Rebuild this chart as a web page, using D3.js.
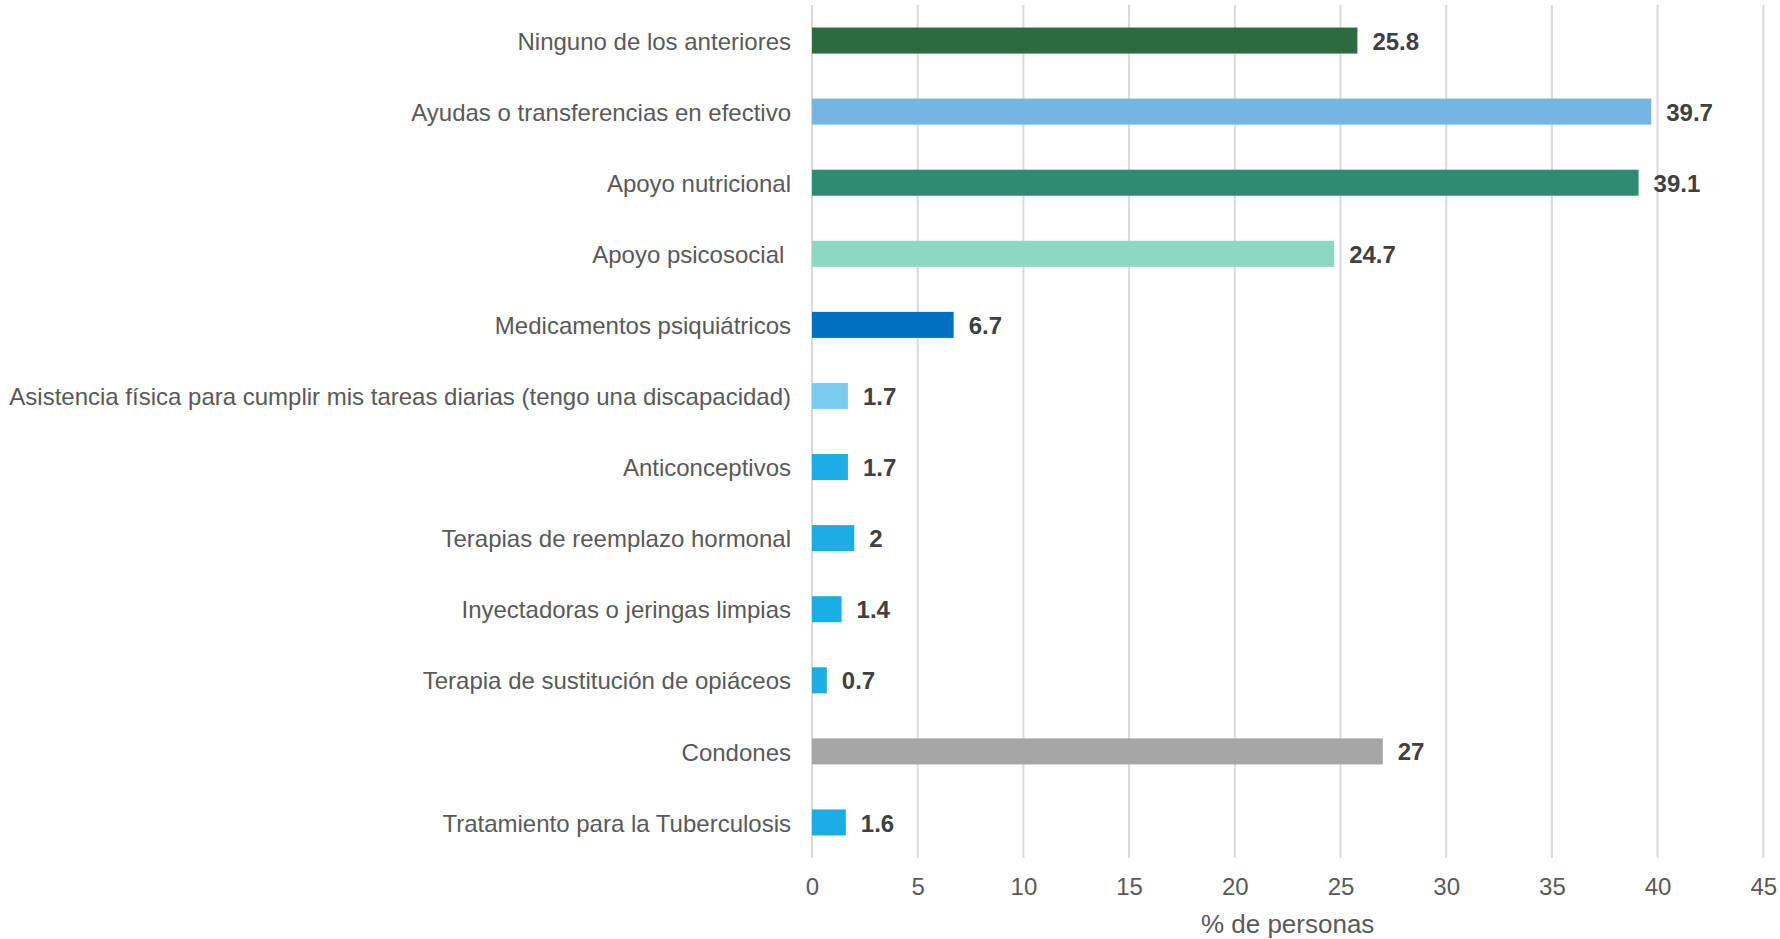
<!DOCTYPE html>
<html>
<head>
<meta charset="utf-8">
<script src="https://cdn.jsdelivr.net/npm/d3@7"></script>
<style>
  body { margin: 0; background: #fff; }
  svg text { font-family: "Liberation Sans", Arial, sans-serif; white-space: pre; }
</style>
</head>
<body>
<svg id="chart" width="1780" height="939"></svg>
<script>
var categories = [
  "Ninguno de los anteriores",
  "Ayudas o transferencias en efectivo",
  "Apoyo nutricional",
  "Apoyo psicosocial ",
  "Medicamentos psiquiátricos",
  "Asistencia física para cumplir mis tareas diarias (tengo una discapacidad)",
  "Anticonceptivos",
  "Terapias de reemplazo hormonal",
  "Inyectadoras o jeringas limpias",
  "Terapia de sustitución de opiáceos",
  "Condones",
  "Tratamiento para la Tuberculosis"
];
var values = [25.8, 39.7, 39.1, 24.7, 6.7, 1.7, 1.7, 2, 1.4, 0.7, 27, 1.6];
var colors = ["#2e6a3f", "#75b4e3", "#2e8a70", "#8dd8c0", "#0070c0", "#7accf0",
              "#1cade4", "#1cade4", "#1cade4", "#1cade4", "#a5a5a5", "#1cade4"];
var xTicks = [0, 5, 10, 15, 20, 25, 30, 35, 40, 45];

var svg = d3.select("#chart"),
    margin = {top: 5, left: 812},
    width = 951.3,
    height = 853,
    g = svg.append("g").attr("transform", "translate(" + margin.left + "," + margin.top + ")");

var x = d3.scaleLinear().domain([0, 45]).range([0, width]);
var y = d3.scaleBand().domain(categories).range([0, height])
    .paddingInner(0.634).paddingOuter(0.317);

// gridlines
g.selectAll("line.grid")
    .data(xTicks)
    .enter().append("line")
    .attr("class", "grid")
    .attr("x1", function(d) { return x(d); })
    .attr("x2", function(d) { return x(d); })
    .attr("y1", 0)
    .attr("y2", height)
    .attr("stroke", "#d9d9d9")
    .attr("stroke-width", 2);

// bars
g.selectAll("rect.bar")
    .data(values)
    .enter().append("rect")
    .attr("class", "bar")
    .attr("x", x(0))
    .attr("y", function(d, i) { return y(categories[i]); })
    .attr("width", function(d) { return x(d) - x(0); })
    .attr("height", y.bandwidth())
    .attr("fill", function(d, i) { return colors[i]; });

// value labels
g.selectAll("text.val")
    .data(values)
    .enter().append("text")
    .attr("class", "val")
    .attr("x", function(d) { return x(d) + 15; })
    .attr("y", function(d, i) { return y(categories[i]) + y.bandwidth() / 2; })
    .attr("dy", "0.38em")
    .attr("font-size", "24px")
    .attr("font-weight", "bold")
    .attr("fill", "#404040")
    .text(function(d) { return d; });

// category labels
var yAxis = g.append("g")
    .call(d3.axisLeft(y).tickSize(0).tickPadding(21));
yAxis.select(".domain").remove();
yAxis.selectAll("text")
    .attr("dy", "0.38em")
    .attr("font-size", "24px")
    .attr("fill", "#595959");

// x axis
var xAxis = g.append("g")
    .attr("transform", "translate(0," + height + ")")
    .call(d3.axisBottom(x).tickValues(xTicks).tickSize(0).tickPadding(20));
xAxis.select(".domain").remove();
xAxis.selectAll("text")
    .attr("font-size", "24px")
    .attr("fill", "#595959");

svg.append("text")
    .attr("x", margin.left + width / 2)
    .attr("y", 924)
    .attr("dy", "0.35em")
    .attr("text-anchor", "middle")
    .attr("font-size", "26px")
    .attr("fill", "#595959")
    .text("% de personas");
</script>
</body>
</html>
